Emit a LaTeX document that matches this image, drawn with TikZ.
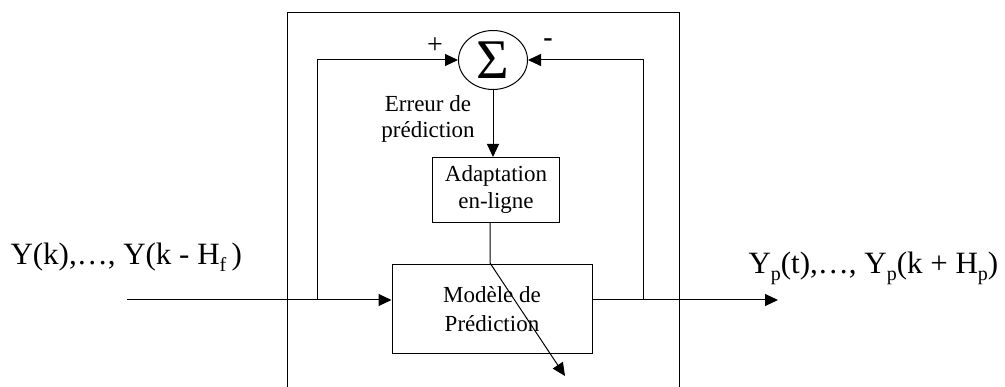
\documentclass[tikz,border=0pt]{standalone}
\usepackage{fontspec}
\setmainfont{Liberation Serif}
\usepackage{tikz}
\usetikzlibrary{arrows.meta,shapes.geometric}
\newcommand{\lowsub}[1]{\raisebox{-7pt}{\fontsize{20}{20}\selectfont #1}}

\begin{document}
\begin{tikzpicture}[
  x=1pt,y=-1pt,
  line width=1pt,
  every node/.style={inner sep=0pt},
  blk/.style={draw,rectangle,align=center,font=\fontsize{23}{27}\selectfont},
  sumnode/.style={draw,ellipse,minimum width=69pt,minimum height=59pt,font=\fontsize{56}{56}\selectfont},
  ar/.style={-{Triangle[length=13pt,width=12pt]}},
  sig/.style={font=\fontsize{28}{28}\selectfont},
  big/.style={font=\fontsize{31}{34}\selectfont}
]
\useasboundingbox (0,0) rectangle (1005,387);

% cadre
\coordinate (fbl) at (287,388);
\coordinate (ftl) at (287,13);
\coordinate (ftr) at (679,13);
\coordinate (fbr) at (679,388);
\draw (fbl) -- (ftl) -- (ftr) -- (fbr);

\node[sumnode] (sum) at (493,60) {Σ};
\node[sig] (plus)  at (435,46) {+};
\node[sig] (minus) at (548,43) {\textbf{-}};
\node[align=center,font=\fontsize{23}{26}\selectfont] (err) at (428,119) {Erreur de\\prédiction};
\node[blk,minimum width=127pt,minimum height=65pt] (adapt) at (496,190) {Adaptation\\en-ligne};
\node[blk,minimum width=200pt,minimum height=89pt,font=\fontsize{23}{29}\selectfont] (model) at (492,309) {Modèle de\\Prédiction};

\node[big,anchor=base west] (inlbl)  at (10,265)  {Y(k),…, Y(k - H\lowsub{f}\,)};
\node[big,anchor=base west] (outlbl) at (748,274) {Y\lowsub{p}(t),…, Y\lowsub{p}(k + H\lowsub{p})};

\coordinate (in)   at (127,300);
\coordinate (out)  at (778,300);
\coordinate (tapl) at (317,300);
\coordinate (tapr) at (643,300);
\coordinate (bend) at (490,263);
\coordinate (tip)  at (565,376);

\draw[ar] (in) -- (in -| model.west);
\draw[ar] (out -| model.east) -- (out);
\draw[ar] (tapl) |- (sum.west);
\draw[ar] (tapr) |- (sum.east);
\draw[ar] (sum.south) -- (sum.south |- adapt.north);
\draw[ar] (adapt.south -| bend) -- (bend) -- (tip);
\end{tikzpicture}
\end{document}
